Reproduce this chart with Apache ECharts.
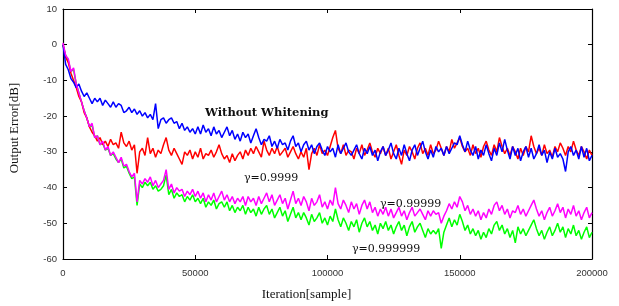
<!DOCTYPE html>
<html>
<head>
<meta charset="utf-8">
<script src="https://cdn.jsdelivr.net/npm/echarts@6/dist/echarts.min.js"></script>
<style>
    html, body { margin: 0; padding: 0; background: #fff; }
    #chart { width: 619px; height: 306px; }
</style>
</head>
<body>
<div id="chart"></div>
<script>
    // one point every 1000 samples, 0 .. 200000
    const SAMPLE_STEP = 1000
    const X_TICKS = [0, 50000, 100000, 150000, 200000]
    const Y_TICKS = [-60, -50, -40, -30, -20, -10, 0, 10]

    // Without Whitening
    const blueNoWhitening = [
        0, -5.5, -7, -9.5, -10.5, -12, -11, -13, -14.5, -13.5,
        -15, -16.5, -15, -16, -15, -17, -15.5, -16.5, -17.5, -16,
        -17.5, -16.5, -17, -19, -18.5, -17.5, -19, -18, -19.5, -18.5,
        -20, -19, -20.5, -19.5, -21, -16.5, -23.5, -21, -20.5, -22,
        -21, -20.5, -22, -21.5, -23.5, -22, -24, -23, -24.5, -23.5,
        -25, -23, -25, -22.5, -24.5, -23.5, -25.5, -23, -25, -24,
        -26, -24.5, -23, -25.5, -24, -26.5, -25, -27, -24.5, -26,
        -25, -27.5, -25.5, -23.5, -26, -28, -26.5, -27, -25.5, -28.5,
        -27, -29, -26.5, -28, -27.5, -29.5, -27, -25.5, -28.5, -27.5,
        -30, -28, -27, -29.5, -28, -30.5, -28.5, -27.5, -29.5, -31,
        -28.5, -30, -29, -31.5, -28, -30.5, -29, -27.5, -30, -31,
        -29.5, -28, -30.5, -32, -29, -30.5, -28.5, -31, -29.5, -32.5,
        -30, -28.5, -31, -29.5, -27.5, -30.5, -32, -29, -31, -28,
        -30.5, -32.5, -29.5, -28, -31, -29, -27, -30, -32, -29.5,
        -31.5, -28.5, -30, -29, -31, -28.5, -30.5, -29, -27.5, -28,
        -25.5, -28, -30, -27, -29.5, -31, -28.5, -32, -29.5, -31,
        -28, -30.5, -32.5, -29, -31, -27.5, -30, -26.5, -29.5, -32,
        -28.5, -31, -29, -32.5, -30, -28.5, -31.5, -29, -32, -30.5,
        -28, -31, -29.5, -33, -30, -32, -29, -31.5, -30.5, -32,
        -35.5, -30, -28.5, -31, -29.5, -32, -28.5, -31.5, -29, -32.5,
        -31
    ]
    // gamma = 0.9999
    const redGamma4 = [
        0, -3.5, -5, -8, -10, -12, -14.5, -16, -19, -20.5,
        -23, -24.5, -25.5, -27, -26, -28, -27, -28.5, -26.5, -28,
        -27.5, -29, -24.5, -27.5, -28.5, -27, -29.5, -28, -36, -30,
        -29, -31, -26, -30.5, -29, -31.5, -29.5, -30.5, -28, -26,
        -29.5, -31, -29, -30.5, -32, -33.5, -30, -31, -29.5, -32,
        -30, -31.5, -29, -32, -30.5, -31, -29.5, -31.5, -30, -28,
        -30.5, -32, -31, -33, -30.5, -32.5, -31, -30, -32, -29.5,
        -31, -29, -30.5, -28.5, -30, -31.5, -27, -29.5, -31, -29,
        -30.5, -28.5, -31, -30, -29, -31.5, -30, -28.5, -30.5, -32,
        -30, -31.5, -29, -35, -30.5, -29, -31, -28, -30.5, -29.5,
        -31, -28.5, -26, -24, -29, -30.5, -28, -31, -29.5, -30,
        -32, -29, -30.5, -28, -31, -29.5, -27.5, -30, -31.5, -29,
        -30.5, -28.5, -31, -29, -32, -30, -28, -31, -33.5, -29.5,
        -31, -28.5, -30, -32, -29, -27.5, -30.5, -29, -31, -28,
        -30.5, -29.5, -27, -29, -31, -28.5, -30, -26.5, -29, -27.5,
        -26, -28.5, -30, -29, -31, -28, -30.5, -29, -31.5, -28.5,
        -27, -29.5, -31, -28, -30, -26, -28.5, -30.5, -29, -31,
        -28.5, -30, -32, -29, -31, -28.5, -30, -25.5, -28.5, -30.5,
        -29, -31, -28, -30.5, -29.5, -31.5, -28.5, -30, -27.5, -29,
        -31, -28.5, -30, -27, -29.5, -31, -28.5, -30, -32, -29.5,
        -31
    ]
    // gamma = 0.99999
    const magentaGamma5 = [
        0.5, -3, -4, -7.5, -6.5, -11, -13.5, -16, -18.5, -20.5,
        -23, -22, -26, -25.5, -28, -27, -29.5, -28.5, -31, -30,
        -31.5, -33, -31.5, -34, -33.5, -35.5, -37, -36, -44, -38,
        -39, -37.5, -38.5, -37, -39.5, -38, -40, -39, -38, -35,
        -40.5, -39, -41.5, -40, -41, -40.5, -42.5, -41, -42, -40.5,
        -42.5, -41, -43, -41.5, -44, -42, -43.5, -41.5, -44, -42.5,
        -41, -43.5, -42, -44, -42.5, -44.5, -43, -44, -42.5, -45,
        -42.5, -44, -43, -45, -42.5, -44.5, -43, -41.5, -44, -42,
        -45, -43.5, -42, -44.5, -43, -46, -43.5, -41, -44.5, -43,
        -45, -42.5, -44, -46.5, -43, -45, -44, -42, -45.5, -44,
        -46, -43.5, -45, -40, -44.5, -46, -43.5, -45, -47, -44,
        -46, -44.5, -47.5, -45, -43.5, -46, -44, -47, -45.5, -48,
        -46, -47.5, -45.5, -48, -46, -48.5, -47, -45.5, -48, -46.5,
        -49, -47, -45.5, -48, -47, -46, -47.5, -49, -46.5, -48,
        -46.5, -47.5, -47, -50, -48, -46.5, -44.5, -46, -44, -45.5,
        -42.5, -44, -46.5, -45, -47.5, -46, -48, -46.5, -49, -47,
        -48.5, -46, -47.5, -45, -44, -46.5, -45, -47.5, -46, -48.5,
        -46.5, -47, -45, -47.5, -46, -48, -46.5, -45, -43.5, -46,
        -48, -46.5, -49, -47, -45.5, -48, -46.5, -44.5, -47, -45.5,
        -48.5, -46, -47.5, -45, -48, -46.5, -49, -47, -45.5, -48.5,
        -47
    ]
    // gamma = 0.999999
    const greenGamma6 = [
        0, -3, -4.5, -7.5, -7, -11, -13.5, -16, -18.5, -20.5,
        -23, -22.5, -26, -25.5, -28, -27.5, -29.5, -29, -31, -30.5,
        -32, -33, -32, -34.5, -34, -36, -37.5, -37, -45, -39,
        -40, -38.5, -39.5, -38.5, -40.5, -39.5, -41, -40.5, -39.5, -36.5,
        -42, -40.5, -43, -41.5, -42.5, -42, -44, -42.5, -43.5, -42,
        -44, -43, -44.5, -43, -45.5, -44, -45, -43.5, -46, -44.5,
        -44, -45.5, -44, -46.5, -45, -47, -45.5, -46.5, -45, -47.5,
        -45.5, -47, -46, -48, -45.5, -47.5, -46, -45, -47.5, -46,
        -48.5, -47, -45.5, -48, -46.5, -49.5, -47.5, -45.5, -48.5, -47,
        -49, -47, -48.5, -50.5, -47.5, -49.5, -48.5, -47, -50, -48.5,
        -50.5, -48, -49.5, -46, -49, -51, -48.5, -50, -52, -49.5,
        -51, -49, -52.5, -50, -48.5, -51, -49.5, -52, -50.5, -53,
        -50, -51.5, -49.5, -52, -50.5, -53, -51, -49.5, -52, -50.5,
        -53.5, -51, -49.5, -52.5, -51, -50, -52, -54, -51.5, -53,
        -52, -53, -51.5, -57, -52.5, -50.5, -48.5, -51, -49, -50.5,
        -47.5, -49.5, -52, -50.5, -53, -51.5, -53.5, -52, -54.5, -52.5,
        -54, -51.5, -53, -50.5, -49.5, -52, -50.5, -53, -51.5, -54,
        -52, -55.5, -51, -53, -51.5, -53.5, -52, -50.5, -49, -51.5,
        -53.5, -52, -54.5, -52.5, -51, -53.5, -52, -50, -52.5, -51,
        -54, -51.5, -53, -50.5, -53.5, -52, -54.5, -52.5, -51, -54,
        -52.5
    ]

    /**
     * pair each value with its sample index
     */
    function toPoints (vals) {
        return vals.map(function (v, i) { return [i * SAMPLE_STEP, v] })
    }

    function lineSeries (name, color, vals) {
        return {
            name: name,
            type: 'line',
            showSymbol: false,
            symbol: 'none',
            animation: false,
            lineStyle: { color: color, width: 1.5 },
            data: toPoints(vals)
        }
    }

    const tickFont = { fontFamily: 'Liberation Sans', fontSize: 9.5, color: '#333' }
    const titleFont = { fontFamily: 'Liberation Serif', fontSize: 13, color: '#111' }
    const noteFont = { fontFamily: 'DejaVu Serif', fontSize: 11, fill: '#111' }
    const frameLine = { onZero: false, lineStyle: { color: '#000', width: 1.2 } }
    const innerTick = { show: true, inside: true, length: 4, lineStyle: { color: '#000' } }

    const chart = echarts.init(document.getElementById('chart'), null, { renderer: 'canvas' })
    chart.setOption({
        animation: false,
        backgroundColor: '#fff',
        grid: { left: 63, right: 27, top: 9, bottom: 37 },
        xAxis: [
            {
                type: 'value',
                min: X_TICKS[0],
                max: X_TICKS[X_TICKS.length - 1],
                interval: X_TICKS[1] - X_TICKS[0],
                name: 'Iteration[sample]',
                nameLocation: 'middle',
                nameGap: 29,
                nameTextStyle: Object.assign({ padding: [0, 42, 0, 0] }, titleFont),
                axisLine: frameLine,
                axisTick: innerTick,
                axisLabel: Object.assign({ margin: 9, formatter: function (v) { return String(v) } }, tickFont),
                splitLine: { show: false }
            },
            {
                type: 'value',
                position: 'top',
                min: X_TICKS[0],
                max: X_TICKS[X_TICKS.length - 1],
                interval: X_TICKS[1] - X_TICKS[0],
                axisLine: frameLine,
                axisTick: innerTick,
                axisLabel: { show: false },
                splitLine: { show: false }
            }
        ],
        yAxis: [
            {
                type: 'value',
                min: Y_TICKS[0],
                max: Y_TICKS[Y_TICKS.length - 1],
                interval: Y_TICKS[1] - Y_TICKS[0],
                name: 'Output Error[dB]',
                nameLocation: 'middle',
                nameGap: 42,
                nameTextStyle: Object.assign({ padding: [0, 0, 0, 12] }, titleFont),
                axisLine: Object.assign({ show: true }, frameLine),
                axisTick: innerTick,
                axisLabel: Object.assign({ margin: 6 }, tickFont),
                splitLine: { show: false }
            },
            {
                type: 'value',
                position: 'right',
                min: Y_TICKS[0],
                max: Y_TICKS[Y_TICKS.length - 1],
                interval: Y_TICKS[1] - Y_TICKS[0],
                axisLine: Object.assign({ show: true }, frameLine),
                axisTick: innerTick,
                axisLabel: { show: false },
                splitLine: { show: false }
            }
        ],
        series: [
            lineSeries('γ=0.999999', '#00ff00', greenGamma6),
            lineSeries('γ=0.9999', '#ff0000', redGamma4),
            lineSeries('Without Whitening', '#0000ff', blueNoWhitening),
            lineSeries('γ=0.99999', '#ff00ff', magentaGamma5)
        ],
        graphic: [
            { type: 'text', left: 205, top: 107, style: Object.assign({}, noteFont, { text: 'Without Whitening', fontWeight: 'bold', fontSize: 11.5 }) },
            { type: 'text', left: 244, top: 173, style: Object.assign({ text: 'γ=0.9999' }, noteFont) },
            { type: 'text', left: 380, top: 199, style: Object.assign({ text: 'γ=0.99999' }, noteFont) },
            { type: 'text', left: 352, top: 244, style: Object.assign({ text: 'γ=0.999999' }, noteFont) }
        ]
    })
</script>
</body>
</html>
